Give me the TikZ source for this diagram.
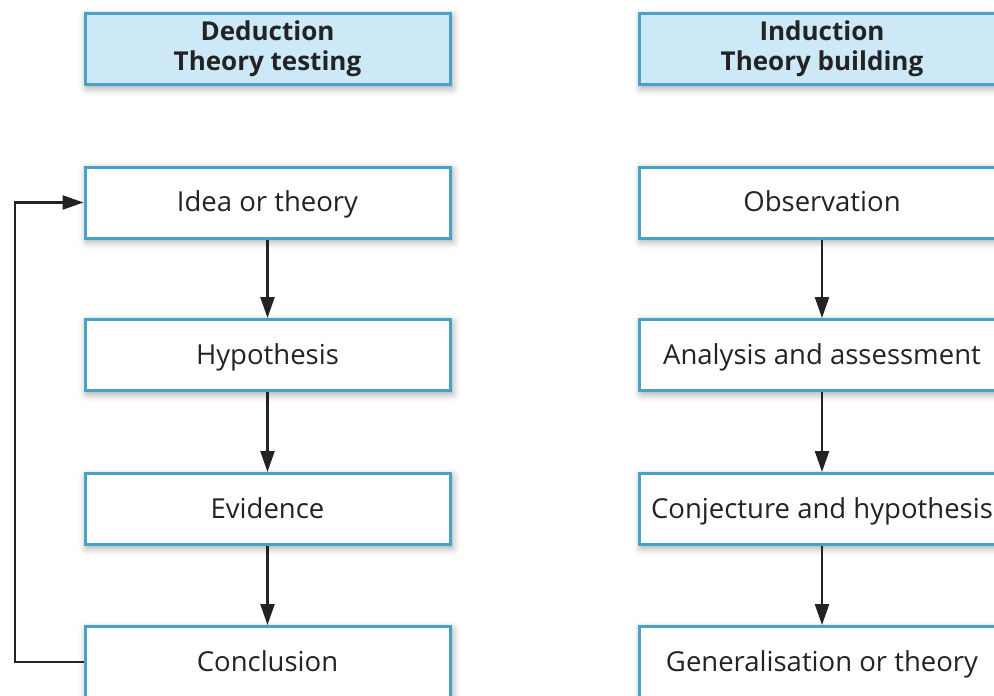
\documentclass[tikz,border=0pt]{standalone}
\usepackage{fontspec}
\setmainfont{Open Sans}
\usetikzlibrary{arrows.meta,shadows.blur}

\definecolor{boxblue}{RGB}{72,162,200}
\definecolor{headfill}{RGB}{205,233,248}
\definecolor{inkdark}{RGB}{35,35,35}

\tikzset{
  stepbox/.style={draw=boxblue, line width=3pt, fill=white,
    minimum width=365pt, minimum height=71pt, inner sep=0pt,
    text=inkdark, font=\fontsize{27.5}{30}\selectfont,
    text height=22pt, text depth=4pt,
    blur shadow={shadow xshift=2pt, shadow yshift=-3pt, shadow blur radius=8pt, shadow opacity=40}},
  headbox/.style={stepbox, fill=headfill, align=center,
    text height=, text depth=,
    font=\fontsize{26}{30}\selectfont\bfseries},
  flow/.style={draw=inkdark, line width=2.4pt,
    -{Triangle[length=21pt,width=14pt]}},
}

\begin{document}
\begin{tikzpicture}[x=1pt,y=-1pt]
\useasboundingbox (0,0) rectangle (994,696);
\clip (0,0) rectangle (994,696);

% Deduction column
\node[headbox] (dhead) at (267.5,49) {Deduction\\Theory testing};
\node[stepbox] (idea)  at (267.5,202.5) {Idea or theory};
\node[stepbox] (hyp)   at (267.5,355)   {Hypothesis};
\node[stepbox] (evid)  at (267.5,509)   {Evidence};
\node[stepbox] (concl) at (267.5,662)   {Conclusion};

% Induction column
\node[headbox] (ihead) at (822,49) {Induction\\Theory building};
\node[stepbox] (obs)   at (822,202.5) {Observation};
\node[stepbox] (anal)  at (822,355)   {Analysis and assessment};
\node[stepbox] (conj)  at (822,509)   {Conjecture and hypothesis};
\node[stepbox] (gen)   at (822,662)   {Generalisation or theory};

% Downward steps
\draw[flow] (idea) -- (hyp);
\draw[flow] (hyp) -- (evid);
\draw[flow] (evid) -- (concl);
\draw[flow] (obs) -- (anal);
\draw[flow] (anal) -- (conj);
\draw[flow] (conj) -- (gen);

% Feedback loop from conclusion back to the idea
\coordinate (fb) at (15,0);
\draw[flow] (concl.west) -- (concl.west -| fb) -- (idea.west -| fb) -- (idea.west);
\end{tikzpicture}
\end{document}
